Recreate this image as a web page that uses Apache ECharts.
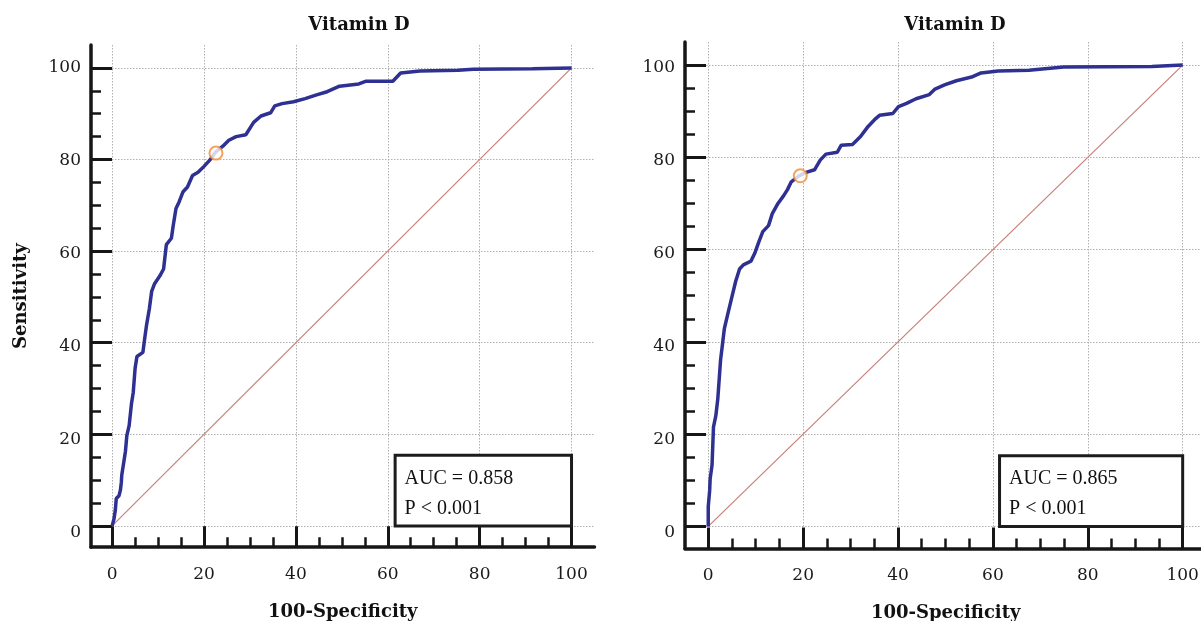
<!DOCTYPE html>
<html><head><meta charset="utf-8">
<script src="https://cdn.jsdelivr.net/npm/echarts@6/dist/echarts.min.js"></script>
<style>html,body{margin:0;padding:0;background:#fff}#c{width:1201px;height:621px}</style>
</head><body><div id="c"></div>
<script>
// ---------- data ----------
const majorTicks = [0, 20, 40, 60, 80, 100];
const minorTicks = [5, 10, 15, 25, 30, 35, 45, 50, 55, 65, 70, 75, 85, 90, 95];
const panelTitles = ['Vitamin D', 'Vitamin D'];
const xAxisTitle = '100-Specificity';
const yAxisTitle = 'Sensitivity';

// left panel ROC (100-Specificity, Sensitivity)
const leftFpr = [0, 0.4, 0.7, 0.9, 1.5, 1.8, 2.0, 2.1, 2.5, 2.9, 3.2, 3.7, 4.2, 4.6, 5.0, 5.4, 6.7, 7.1, 7.5, 8.1, 8.6, 9.2, 10.4, 11.2, 11.8, 12.9, 13.3, 13.9, 14.6, 15.4, 16.4, 17.5, 18.7, 20.0, 21.2, 22.5, 24.1, 25.4, 27.0, 29.1, 30.8, 32.4, 34.5, 35.4, 37.0, 39.5, 42.0, 44.5, 46.8, 49.5, 53.7, 55.3, 61.1, 62.8, 67.0, 75.3, 78.6, 91.5, 91.9, 100];
const leftSens = [0, 1.5, 3.5, 6.0, 6.6, 7.8, 9.5, 11.1, 13.7, 16.3, 19.7, 21.9, 26.6, 29.2, 34.4, 37.0, 37.9, 41.0, 43.9, 47.4, 51.2, 52.8, 54.6, 56.1, 61.4, 62.8, 65.6, 69.3, 70.8, 72.9, 74.0, 76.5, 77.2, 78.5, 79.8, 81.6, 82.9, 84.2, 85.0, 85.4, 88.1, 89.5, 90.2, 91.7, 92.2, 92.6, 93.3, 94.1, 94.8, 96.0, 96.5, 97.1, 97.1, 98.9, 99.3, 99.5, 99.7, 99.8, 100, 100];
const leftCutoff = [22.6, 81.4];
const leftStats = ['AUC = 0.858', 'P < 0.001'];

// right panel ROC
const rightFpr = [0, 0, 0.3, 0.4, 0.8, 1.1, 1.6, 2.0, 2.6, 3.0, 3.4, 4.2, 5.0, 5.8, 6.6, 7.4, 9.0, 9.8, 10.7, 11.5, 12.7, 13.5, 14.7, 15.9, 16.7, 17.5, 19.1, 20.8, 22.4, 23.6, 24.8, 27.2, 28.0, 30.4, 32.1, 33.7, 35.3, 36.1, 38.9, 40.1, 41.8, 43.8, 46.6, 47.8, 49.8, 52.3, 55.5, 57.5, 61.1, 67.6, 74.9, 93.5, 93.9, 100];
const rightSens = [0, 4.3, 7.8, 10.3, 13.3, 21.5, 24.0, 27.5, 36.1, 39.5, 42.9, 46.4, 49.8, 53.2, 55.8, 56.7, 57.5, 59.2, 61.8, 63.9, 65.2, 67.8, 70.0, 71.7, 73.0, 74.7, 76.0, 76.8, 77.3, 79.4, 80.7, 81.1, 82.6, 82.8, 84.5, 86.7, 88.4, 89.1, 89.5, 91.0, 91.7, 92.7, 93.6, 94.8, 95.7, 96.6, 97.4, 98.3, 98.7, 98.9, 99.6, 99.7, 100, 100];
const rightCutoff = [19.4, 76.0];
const rightStats = ['AUC = 0.865', 'P < 0.001'];

const chanceX = [0, 100];
const chanceY = [0, 100];

// ---------- layout / style ----------
const AX = '#161616';
const SERIF = '"DejaVu Serif", serif';
const BOXFONT = '"Liberation Serif", serif';
const panels = [
  { fpr: leftFpr, sens: leftSens, cut: leftCutoff, stats: leftStats, title: panelTitles[0],
    grid: { left: 91, top: 45, width: 503.5, height: 502.2 },
    x: [-4.6, 105], y: [-4.65, 105], yLab: [-3.07, 104.84],
    box: [[61.6, 15.4], [100, 0]], titleX: 359, yName: true },
  { fpr: rightFpr, sens: rightSens, cut: rightCutoff, stats: rightStats, title: panelTitles[1],
    grid: { left: 685, top: 42, width: 521.4, height: 506.4 },
    x: [-4.9, 105], y: [-4.77, 105], yLab: [-3.36, 105.6],
    box: [[61.4, 15.3], [100, 0]], titleX: 955, yName: false }
];

const grids = [], xAxes = [], yAxes = [], series = [], graphics = [];
panels.forEach((p, i) => {
  grids.push(Object.assign({ containLabel: false, outerBoundsMode: 'none' }, p.grid));
  // major x axis
  xAxes.push({
    type: 'value', gridIndex: i, min: p.x[0], max: p.x[1], position: 'bottom',
    axisLine: { show: true, onZero: false, lineStyle: { color: AX, width: 3.5 } },
    axisTick: { show: true, inside: true, length: 21, customValues: majorTicks, lineStyle: { color: AX, width: 3 } },
    axisLabel: { show: true, customValues: majorTicks, margin: 19, fontSize: 17, fontFamily: SERIF, color: '#1a1a1a' },
    splitLine: { show: true, lineStyle: { color: '#b0b0b0', width: 1, type: [1.5, 1.5] } },
    name: xAxisTitle, nameLocation: 'middle', nameGap: 56,
    nameTextStyle: { fontFamily: SERIF, fontWeight: 'bold', fontSize: 18, color: '#111' }
  });
  // minor x axis
  xAxes.push({
    type: 'value', gridIndex: i, min: p.x[0], max: p.x[1], position: 'bottom',
    axisLine: { show: false, onZero: false },
    axisTick: { show: true, inside: true, length: 10, customValues: minorTicks, lineStyle: { color: AX, width: 2.5 } },
    axisLabel: { show: false }, splitLine: { show: false }
  });
  // major y axis
  yAxes.push({
    type: 'value', gridIndex: i, min: p.y[0], max: p.y[1], position: 'left',
    axisLine: { show: true, onZero: false, lineStyle: { color: AX, width: 3.5 } },
    axisTick: { show: true, inside: true, length: 21, customValues: majorTicks, lineStyle: { color: AX, width: 3 } },
    axisLabel: { show: false },
    splitLine: { show: true, lineStyle: { color: '#b0b0b0', width: 1, type: [1.5, 1.5] } },
    name: p.yName ? yAxisTitle : '', nameLocation: 'middle', nameGap: 61,
    nameTextStyle: { fontFamily: SERIF, fontWeight: 'bold', fontSize: 18, color: '#111' }
  });
  // minor y axis
  yAxes.push({
    type: 'value', gridIndex: i, min: p.y[0], max: p.y[1], position: 'left',
    axisLine: { show: false, onZero: false },
    axisTick: { show: true, inside: true, length: 10, customValues: minorTicks, lineStyle: { color: AX, width: 2.5 } },
    axisLabel: { show: false }, splitLine: { show: false }
  });
  // y label axis
  yAxes.push({
    type: 'value', gridIndex: i, min: p.yLab[0], max: p.yLab[1], position: 'left',
    axisLine: { show: false, onZero: false }, axisTick: { show: false }, splitLine: { show: false },
    axisLabel: { show: true, customValues: majorTicks, margin: 10, fontSize: 17, fontFamily: SERIF, color: '#1a1a1a' }
  });

  const xi = i * 2, yi = i * 3;
  series.push({
    type: 'line', xAxisIndex: xi, yAxisIndex: yi, silent: true, z: 2,
    data: chanceX.map((v, k) => [v, chanceY[k]]),
    showSymbol: false, lineStyle: { color: '#c77f78', width: 1.2 },
    markArea: {
      silent: true,
      itemStyle: { color: '#ffffff', borderColor: '#1c1c1c', borderWidth: 3 },
      label: {
        show: true, position: 'insideLeft', offset: [6, 3],
        formatter: p.stats.join('\n'),
        fontSize: 20, lineHeight: 30, fontFamily: BOXFONT, color: '#111'
      },
      data: [[{ coord: p.box[0] }, { coord: p.box[1] }]]
    }
  });
  series.push({
    type: 'line', xAxisIndex: xi, yAxisIndex: yi, silent: true, z: 3,
    data: p.fpr.map((v, k) => [v, p.sens[k]]),
    showSymbol: false, lineStyle: { color: '#2e3192', width: 3.5 }
  });
  series.push({
    type: 'scatter', xAxisIndex: xi, yAxisIndex: yi, silent: true, z: 4,
    data: [p.cut], symbol: 'circle', symbolSize: 13,
    itemStyle: { color: '#ffffff', borderColor: '#f28c33', borderWidth: 2 }
  });
  graphics.push({
    type: 'text', x: p.titleX, y: 25, silent: true,
    style: { text: p.title, align: 'center', verticalAlign: 'middle',
             font: 'bold 18px ' + SERIF, fill: '#111' }
  });
});

const chart = echarts.init(document.getElementById('c'));
chart.setOption({
  animation: false,
  backgroundColor: '#ffffff',
  textStyle: { fontFamily: SERIF },
  grid: grids, xAxis: xAxes, yAxis: yAxes, series: series, graphic: graphics
});
</script></body></html>
